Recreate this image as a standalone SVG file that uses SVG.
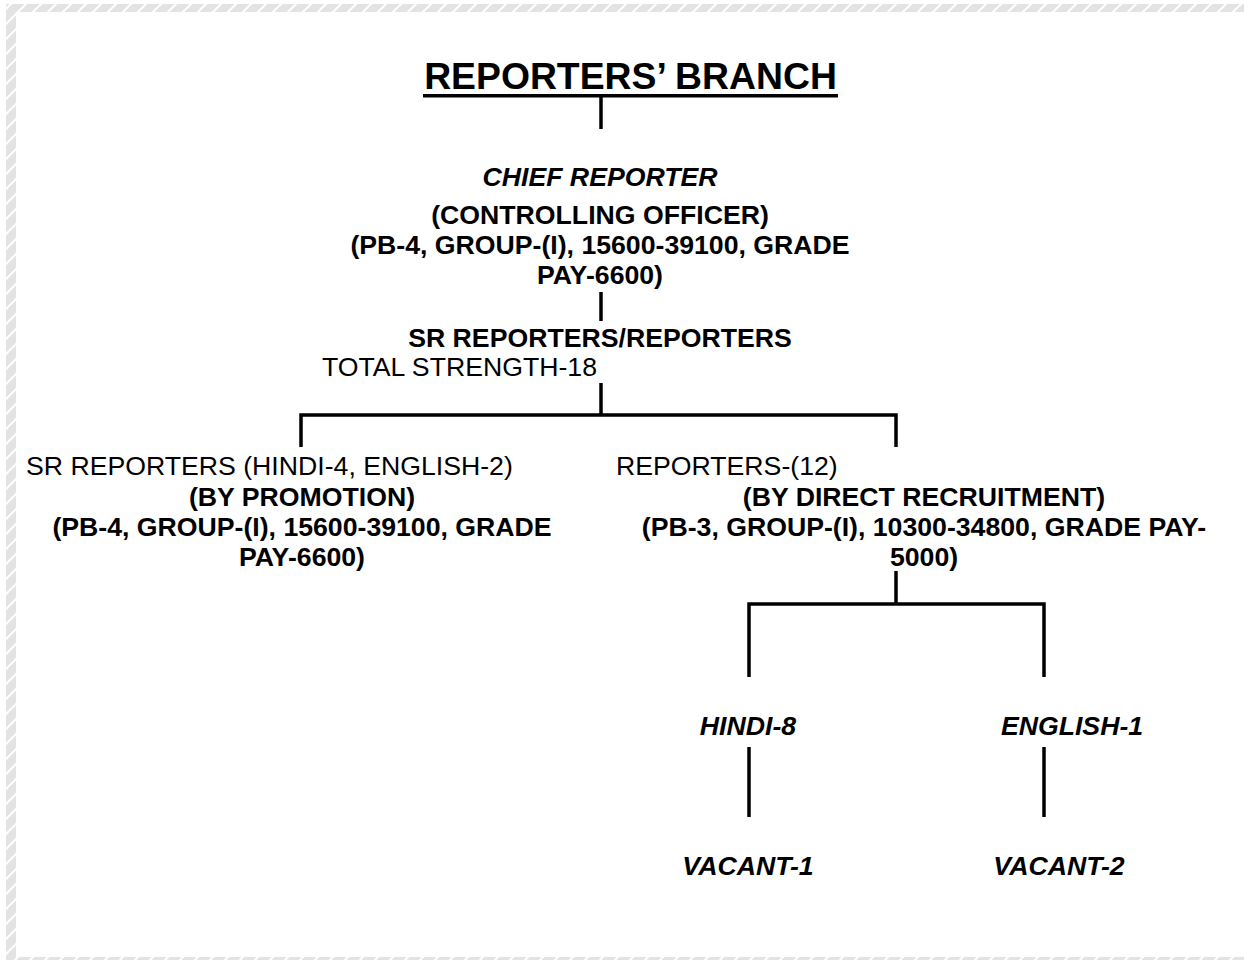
<svg xmlns="http://www.w3.org/2000/svg" width="1244" height="960" viewBox="0 0 1244 960">
  <defs>
    <pattern id="hatch" patternUnits="userSpaceOnUse" width="15" height="15">
      <rect width="15" height="15" fill="#e3e3e3"/>
      <path d="M0,15 L15,0 M-3,3 L3,-3 M12,18 L18,12" stroke="#ffffff" stroke-width="2"/>
    </pattern>
    <style>
      text { font-family: "Liberation Sans", Arial, sans-serif; fill: #000; }
      .t { font-size: 37.33px; font-weight: bold; }
      .b { font-size: 26.67px; font-weight: bold; }
      .bi { font-size: 26.67px; font-weight: bold; font-style: italic; }
      .r { font-size: 26.67px; }
      .c { text-anchor: middle; }
      .ln { stroke: #000; stroke-width: 3.5; fill: none; stroke-linecap: butt; }
    </style>
  </defs>

  <g id="background">
    <rect x="0" y="0" width="1244" height="960" fill="#ffffff"/>
    <rect x="6" y="4" width="1238" height="8" fill="url(#hatch)"/>
    <rect x="6" y="4" width="10" height="956" fill="url(#hatch)"/>
    <rect x="6" y="957" width="1238" height="3" fill="url(#hatch)"/>
  </g>

  <g id="connectors">
    <line class="ln" x1="423" y1="95.8" x2="838" y2="95.8" stroke-width="3"/>
    <line class="ln" x1="601" y1="97" x2="601" y2="129"/>
    <line class="ln" x1="601" y1="292" x2="601" y2="321"/>
    <line class="ln" x1="601" y1="383" x2="601" y2="415"/>
    <polyline class="ln" points="301,447 301,415 896,415 896,447"/>
    <line class="ln" x1="896" y1="571" x2="896" y2="604"/>
    <polyline class="ln" points="749,677 749,604 1044,604 1044,677"/>
    <line class="ln" x1="749" y1="747" x2="749" y2="817"/>
    <line class="ln" x1="1044" y1="747" x2="1044" y2="817"/>
  </g>

  <g id="title">
    <text class="t c" x="630.5" y="89">REPORTERS’ BRANCH</text>
  </g>

  <g id="chief-reporter">
    <text class="bi c" x="600" y="186">CHIEF REPORTER</text>
    <text class="b c" x="600" y="224">(CONTROLLING OFFICER)</text>
    <text class="b c" x="600" y="254">(PB-4, GROUP-(I), 15600-39100, GRADE</text>
    <text class="b c" x="600" y="284">PAY-6600)</text>
  </g>

  <g id="sr-reporters-reporters">
    <text class="b c" x="600" y="347">SR REPORTERS/REPORTERS</text>
    <text class="r" x="322" y="376">TOTAL STRENGTH-18</text>
  </g>

  <g id="sr-reporters">
    <text class="r" x="26" y="475">SR REPORTERS (HINDI-4, ENGLISH-2)</text>
    <text class="b c" x="302" y="506">(BY PROMOTION)</text>
    <text class="b c" x="302" y="536">(PB-4, GROUP-(I), 15600-39100, GRADE</text>
    <text class="b c" x="302" y="566">PAY-6600)</text>
  </g>

  <g id="reporters">
    <text class="r" x="616" y="475">REPORTERS-(12)</text>
    <text class="b c" x="924" y="506">(BY DIRECT RECRUITMENT)</text>
    <text class="b c" x="924" y="536">(PB-3, GROUP-(I), 10300-34800, GRADE PAY-</text>
    <text class="b c" x="924" y="566">5000)</text>
  </g>

  <g id="hindi">
    <text class="bi c" x="748" y="735">HINDI-8</text>
  </g>
  <g id="english">
    <text class="bi c" x="1072" y="735">ENGLISH-1</text>
  </g>
  <g id="vacant-1">
    <text class="bi c" x="748" y="875">VACANT-1</text>
  </g>
  <g id="vacant-2">
    <text class="bi c" x="1059" y="875">VACANT-2</text>
  </g>
</svg>
